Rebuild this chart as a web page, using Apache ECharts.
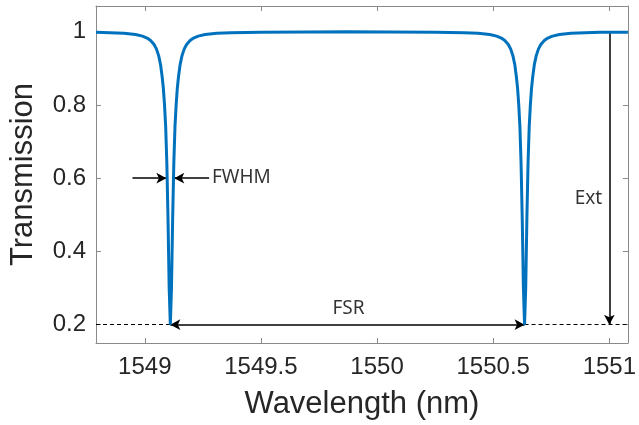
<!DOCTYPE html>
<html>
<head>
<meta charset="utf-8" />
<title>Transmission</title>
<script src="https://cdn.jsdelivr.net/npm/echarts@6/dist/echarts.min.js"></script>
<style>
	* { margin: 0; padding: 0; }
	html, body { width: 100%; height: 100%; background: #fff; }
	#main { width: 639px; height: 425px; }
</style>
</head>
<body>
<div id="main"></div>
<script>
// spectrum (wavelength in nm, transmission)
var wavelength = [
	1548.79, 1548.85, 1548.91, 1548.96, 1548.99, 1549.01, 1549.025, 1549.04, 1549.05, 1549.06,
	1549.068, 1549.075, 1549.08, 1549.085, 1549.09, 1549.095, 1549.1, 1549.105, 1549.11,
	1549.115, 1549.12, 1549.125, 1549.13, 1549.135, 1549.14, 1549.145, 1549.152, 1549.16, 1549.17,
	1549.18, 1549.195, 1549.21, 1549.23, 1549.26, 1549.31, 1549.37,
	1549.5, 1549.7, 1549.87, 1550.05, 1550.25,
	1550.375, 1550.435, 1550.485, 1550.515, 1550.535, 1550.55, 1550.565, 1550.575, 1550.585,
	1550.593, 1550.6, 1550.605, 1550.61, 1550.615, 1550.62, 1550.625, 1550.63, 1550.635,
	1550.64, 1550.645, 1550.65, 1550.655, 1550.66, 1550.665, 1550.67, 1550.677, 1550.685, 1550.695,
	1550.705, 1550.72, 1550.735, 1550.755, 1550.785, 1550.835, 1550.895, 1550.96, 1551.08
];
var transmission = [
	0.9982, 0.9973, 0.9955, 0.9921, 0.9877, 0.9824, 0.9758, 0.9649, 0.9529, 0.9339,
	0.9095, 0.8758, 0.845, 0.80, 0.74, 0.64, 0.49, 0.30, 0.2,
	0.30, 0.49, 0.64, 0.74, 0.80, 0.845, 0.8758, 0.9095, 0.9339, 0.9529,
	0.9649, 0.9758, 0.9824, 0.9877, 0.9921, 0.9955, 0.9973,
	0.9986, 0.9992, 0.9994, 0.9991, 0.9986,
	0.9973, 0.9955, 0.9921, 0.9877, 0.9824, 0.9758, 0.9649, 0.9529, 0.9339,
	0.9095, 0.8758, 0.845, 0.80, 0.74, 0.64, 0.49, 0.30, 0.2,
	0.30, 0.49, 0.64, 0.74, 0.80, 0.845, 0.8758, 0.9095, 0.9339, 0.9529,
	0.9649, 0.9758, 0.9824, 0.9877, 0.9921, 0.9955, 0.9973, 0.998, 0.9985
];

// axis ranges
var xRange = [1548.79, 1551.08];
var yRange = [0.15, 1.07];

// annotation geometry (data coords)
var dip1 = 1549.11;
var dip2 = 1550.635;
var floorLevel = 0.2;
var fwhmLeft = [1548.947, 1549.093];
var fwhmRight = [1549.277, 1549.127];
var fwhmLevel = 0.6;
var extX = 1551;
var extTop = 1.0;
var labels = [
	[1549.416, 0.601, 'FWHM'],
	[1549.877, 0.244, 'FSR'],
	[1550.91, 0.544, 'Ext']
];

var curve = [];
for (var i = 0; i < wavelength.length; i++) {
	curve.push([wavelength[i], transmission[i]]);
}

var axisColor = '#8a8a8a';
var textColor = '#262626';

function hideEnds(v) {
	var r = Math.round(v * 10) / 10;
	if (Math.abs(v - r) > 1e-6) return '';
	return String(r);
}

var myChart = echarts.init(document.getElementById('main'));
myChart.setOption({
	animation: false,
	grid: { left: 95, right: 11, top: 6, bottom: 82 },
	xAxis: [{
		type: 'value',
		min: xRange[0],
		max: xRange[1],
		splitNumber: 5,
		name: 'Wavelength (nm)',
		nameLocation: 'middle',
		nameGap: 46,
		nameTextStyle: { fontFamily: 'Liberation Sans', fontSize: 31, color: textColor },
		axisLine: { lineStyle: { color: axisColor, width: 1 } },
		axisTick: { inside: true, length: 5, lineStyle: { color: axisColor } },
		axisLabel: {
			fontFamily: 'Liberation Sans', fontSize: 24, color: textColor, margin: 12,
			showMinLabel: false, showMaxLabel: false,
			formatter: function (v) { var r = Math.round(v * 2) / 2; return Math.abs(v - r) > 1e-6 ? '' : String(r); }
		},
		splitLine: { show: false }
	}, {
		type: 'value',
		position: 'top',
		min: xRange[0],
		max: xRange[1],
		splitNumber: 5,
		axisLine: { lineStyle: { color: axisColor, width: 1 } },
		axisTick: { inside: true, length: 5, lineStyle: { color: axisColor } },
		axisLabel: { show: false },
		splitLine: { show: false }
	}],
	yAxis: [{
		type: 'value',
		min: yRange[0],
		max: yRange[1],
		splitNumber: 5,
		name: 'Transmission',
		nameLocation: 'middle',
		nameGap: 57,
		nameTextStyle: { fontFamily: 'Liberation Sans', fontSize: 31, color: textColor },
		axisLine: { show: true, lineStyle: { color: axisColor, width: 1 } },
		axisTick: { show: true, inside: true, length: 5, lineStyle: { color: axisColor } },
		axisLabel: {
			fontFamily: 'Liberation Sans', fontSize: 24, color: textColor, margin: 10,
			showMinLabel: false, showMaxLabel: false,
			formatter: hideEnds
		},
		splitLine: { show: false }
	}, {
		type: 'value',
		position: 'right',
		min: yRange[0],
		max: yRange[1],
		splitNumber: 5,
		axisLine: { show: true, lineStyle: { color: axisColor, width: 1 } },
		axisTick: { show: true, inside: true, length: 5, lineStyle: { color: axisColor } },
		axisLabel: { show: false },
		splitLine: { show: false }
	}],
	series: [{
		// dashed reference at the floor
		type: 'line',
		data: [],
		silent: true,
		markLine: {
			silent: true,
			symbol: 'none',
			label: { show: false },
			lineStyle: { color: '#000', width: 1, type: [4, 3] },
			data: [
				[{ coord: [xRange[0], floorLevel] }, { coord: [dip1, floorLevel] }],
				[{ coord: [dip2, floorLevel] }, { coord: [xRange[1], floorLevel] }]
			]
		}
	}, {
		// arrows
		type: 'line',
		data: [],
		silent: true,
		markLine: {
			silent: true,
			symbol: ['none', 'arrow'],
			symbolSize: [8, 10],
			label: { show: false },
			lineStyle: { color: '#000', width: 1.5, type: 'solid' },
			data: [
				[{ coord: [dip1, floorLevel], symbol: 'arrow' }, { coord: [dip2, floorLevel], symbol: 'arrow' }],
				[{ coord: [extX, extTop], symbol: 'none' }, { coord: [extX, floorLevel], symbol: 'arrow' }],
				[{ coord: [fwhmLeft[0], fwhmLevel], symbol: 'none' }, { coord: [fwhmLeft[1], fwhmLevel], symbol: 'arrow' }],
				[{ coord: [fwhmRight[0], fwhmLevel], symbol: 'none' }, { coord: [fwhmRight[1], fwhmLevel], symbol: 'arrow' }]
			]
		}
	}, {
		type: 'line',
		data: curve,
		showSymbol: false,
		smooth: false,
		z: 5,
		lineStyle: { color: '#0072BD', width: 3 },
		itemStyle: { color: '#0072BD' }
	}, {
		type: 'scatter',
		data: labels,
		symbolSize: 0,
		silent: true,
		label: {
			show: true,
			position: 'inside',
			formatter: function (p) { return p.value[2]; },
			fontFamily: 'Noto Sans',
			fontSize: 19,
			color: '#000'
		}
	}]
});
</script>
</body>
</html>
